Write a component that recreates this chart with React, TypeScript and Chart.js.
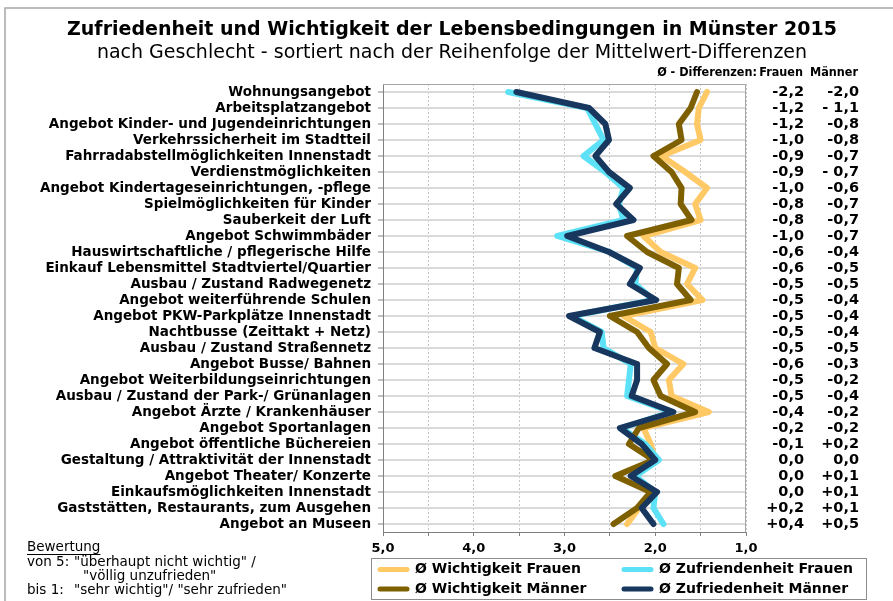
import React, { useEffect, useRef } from 'react';
import { Chart, registerables } from 'chart.js';

Chart.register(...registerables);

const categories = [
  'Wohnungsangebot',
  'Arbeitsplatzangebot',
  'Angebot Kinder- und Jugendeinrichtungen',
  'Verkehrssicherheit im Stadtteil',
  'Fahrradabstellmöglichkeiten Innenstadt',
  'Verdienstmöglichkeiten',
  'Angebot Kindertageseinrichtungen, -pflege',
  'Spielmöglichkeiten für Kinder',
  'Sauberkeit der Luft',
  'Angebot Schwimmbäder',
  'Hauswirtschaftliche / pflegerische Hilfe',
  'Einkauf Lebensmittel Stadtviertel/Quartier',
  'Ausbau / Zustand Radwegenetz',
  'Angebot weiterführende Schulen',
  'Angebot PKW-Parkplätze Innenstadt',
  'Nachtbusse (Zeittakt + Netz)',
  'Ausbau / Zustand Straßennetz',
  'Angebot Busse/ Bahnen',
  'Angebot Weiterbildungseinrichtungen',
  'Ausbau / Zustand der Park-/ Grünanlagen',
  'Angebot Ärzte / Krankenhäuser',
  'Angebot Sportanlagen',
  'Angebot öffentliche Büchereien',
  'Gestaltung / Attraktivität der Innenstadt',
  'Angebot Theater/ Konzerte',
  'Einkaufsmöglichkeiten Innenstadt',
  'Gaststätten, Restaurants, zum Ausgehen',
  'Angebot an Museen',
];

const wichtigkeitFrauen = [1.43, 1.52, 1.54, 1.5, 1.93, 1.67, 1.43, 1.56, 1.5, 2.13, 1.94, 1.56, 1.65, 1.48, 2.35, 2.05, 2.0, 1.69, 1.85, 1.82, 1.41, 2.13, 2.05, 2.0, 2.25, 2.02, 2.18, 2.31];
const zufriedenheitFrauen = [3.62, 2.75, 2.66, 2.57, 2.79, 2.55, 2.35, 2.4, 2.35, 3.08, 2.5, 2.2, 2.22, 2.02, 2.92, 2.59, 2.57, 2.27, 2.29, 2.31, 1.82, 2.37, 2.11, 1.96, 2.22, 2.0, 2.02, 1.91];
const wichtigkeitMaenner = [1.54, 1.61, 1.74, 1.71, 2.02, 1.82, 1.71, 1.72, 1.6, 2.31, 2.09, 1.74, 1.76, 1.61, 2.5, 2.2, 2.07, 1.87, 2.02, 1.94, 1.56, 2.18, 2.29, 2.02, 2.44, 2.05, 2.2, 2.46];
const zufriedenheitMaenner = [3.53, 2.73, 2.55, 2.51, 2.66, 2.51, 2.28, 2.43, 2.24, 2.97, 2.51, 2.17, 2.28, 1.99, 2.95, 2.61, 2.67, 2.2, 2.2, 2.26, 1.8, 2.39, 2.15, 2.0, 2.27, 1.98, 2.15, 2.02];

const diffFrauen = ['-2,2', '-1,2', '-1,2', '-1,0', '-0,9', '-0,9', '-1,0', '-0,8', '-0,8', '-1,0', '-0,6', '-0,6', '-0,5', '-0,5', '-0,5', '-0,5', '-0,5', '-0,6', '-0,5', '-0,5', '-0,4', '-0,2', '-0,1', '0,0', '0,0', '0,0', '+0,2', '+0,4'];
const diffMaenner = ['-2,0', '- 1,1', '-0,8', '-0,8', '-0,7', '- 0,7', '-0,6', '-0,7', '-0,7', '-0,7', '-0,4', '-0,5', '-0,5', '-0,4', '-0,4', '-0,4', '-0,5', '-0,3', '-0,2', '-0,4', '-0,2', '-0,2', '+0,2', '0,0', '+0,1', '+0,1', '+0,1', '+0,5'];

const xTickValues = [5, 4, 3, 2, 1];
const xTickLabels = ['5,0', '4,0', '3,0', '2,0', '1,0'];

const seriesLabels = ['Ø Wichtigkeit Frauen', 'Ø Zufriendenheit Frauen', 'Ø Wichtigkeit Männer', 'Ø Zufriedenheit Männer'];
const seriesColors = ['#FFC966', '#5CE1F6', '#7F6000', '#17375E'];

const titleText = 'Zufriedenheit und Wichtigkeit der Lebensbedingungen in Münster 2015';
const subtitleText = 'nach Geschlecht - sortiert nach der Reihenfolge der Mittelwert-Differenzen';
const headerTexts = ['Ø - Differenzen:', 'Frauen', 'Männer'];
const noteTitle = 'Bewertung';
const noteLines = [
  ['von 5:', '"überhaupt nicht wichtig" /'],
  ['', '"völlig unzufrieden"'],
  ['bis 1:', '"sehr wichtig"/ "sehr zufrieden"'],
];

const FONT = "'DejaVu Sans', Verdana, sans-serif";
const COND = "'DejaVu Sans Condensed', 'DejaVu Sans', sans-serif";

const extrasPlugin = {
  id: 'extras',
  beforeDraw(chart: any) {
    const ctx = chart.ctx;
    ctx.save();
    ctx.fillStyle = '#ffffff';
    ctx.fillRect(0, 0, chart.width, chart.height);
    ctx.strokeStyle = '#a6a6a6';
    ctx.lineWidth = 1.5;
    ctx.beginPath();
    ctx.moveTo(5, chart.height);
    ctx.lineTo(5, 8);
    ctx.lineTo(chart.width, 8);
    ctx.stroke();
    ctx.restore();
  },
  beforeDatasetsDraw(chart: any) {
    const { ctx, chartArea: a } = chart;
    ctx.save();
    ctx.strokeStyle = '#a6a6a6';
    ctx.lineWidth = 1;
    ctx.beginPath();
    ctx.moveTo(a.left, a.top + 0.5);
    ctx.lineTo(a.right - 0.5, a.top + 0.5);
    ctx.lineTo(a.right - 0.5, a.bottom);
    ctx.stroke();
    ctx.restore();
  },
  afterDraw(chart: any) {
    const ctx = chart.ctx;
    const yScale = chart.scales.y;
    ctx.save();
    ctx.fillStyle = '#000';
    ctx.textBaseline = 'middle';
    // header over difference columns
    ctx.font = `bold 12.5px ${COND}`;
    ctx.textAlign = 'right';
    ctx.fillText(headerTexts[0], 757, 73);
    ctx.fillText(headerTexts[1], 803, 73);
    ctx.fillText(headerTexts[2], 858, 73);

    // difference columns, positioned on the category scale
    ctx.font = `bold 14.5px ${FONT}`;
    categories.forEach((_, i) => {
      const y = yScale.getPixelForValue(i);
      ctx.fillText(diffFrauen[i], 804, y);
      ctx.fillText(diffMaenner[i], 859, y);
    });

    // note bottom-left
    ctx.textAlign = 'left';
    ctx.font = `13.5px ${FONT}`;
    ctx.fillText(noteTitle, 27, 547);
    const w = ctx.measureText(noteTitle).width;
    ctx.fillRect(27, 554, w, 1);
    const ys = [562, 576, 590];
    noteLines.forEach((ln, i) => {
      if (ln[0]) ctx.fillText(ln[0], 27, ys[i]);
      ctx.fillText(ln[1], i === 1 ? 83 : 74, ys[i]);
    });

    // legend
    ctx.strokeStyle = '#8c8c8c';
    ctx.lineWidth = 1;
    ctx.strokeRect(371.5, 558.5, 495, 41);
    const pos = [
      [378, 569.5],
      [622, 569.5],
      [378, 589],
      [622, 589],
    ];
    ctx.font = `bold 14px ${FONT}`;
    chart.data.datasets.forEach((ds: any, i: number) => {
      const [x, y] = pos[i];
      ctx.strokeStyle = ds.borderColor;
      ctx.lineWidth = 5;
      ctx.lineCap = 'round';
      ctx.beginPath();
      ctx.moveTo(x + 2, y);
      ctx.lineTo(x + 29, y);
      ctx.stroke();
      ctx.fillStyle = '#000';
      ctx.fillText(ds.label, x + 37, y);
    });
    ctx.restore();
  },
};

export default function App() {
  const ref = useRef<HTMLCanvasElement | null>(null);

  useEffect(() => {
    if (!ref.current) return;
    Chart.defaults.font.family = FONT;
    const series = [wichtigkeitFrauen, zufriedenheitFrauen, wichtigkeitMaenner, zufriedenheitMaenner];
    const orders = [3, 2, 1, 0];
    const chart = new Chart(ref.current, {
      type: 'line',
      data: {
        labels: categories,
        datasets: series.map((d, i) => ({
          label: seriesLabels[i],
          data: d,
          borderColor: seriesColors[i],
          backgroundColor: seriesColors[i],
          borderWidth: 6,
          pointRadius: 0,
          pointHoverRadius: 0,
          tension: 0,
          fill: false,
          borderJoinStyle: 'round',
          borderCapStyle: 'round',
          order: orders[i],
        })),
      },
      options: {
        indexAxis: 'y',
        animation: false,
        responsive: false,
        maintainAspectRatio: false,
        events: [],
        layout: { padding: { left: 11, right: 0, top: 0, bottom: 44 } },
        plugins: {
          legend: { display: false },
          tooltip: { enabled: false },
          title: {
            display: true,
            text: titleText,
            color: '#000',
            font: { family: FONT, size: 19, weight: 'bold' },
            padding: { top: 19, bottom: 0 },
          },
          subtitle: {
            display: true,
            text: subtitleText,
            color: '#000',
            font: { family: FONT, size: 19, weight: 'normal' },
            padding: { top: 0, bottom: 19.4 },
          },
        },
        scales: {
          x: {
            type: 'linear',
            position: 'bottom',
            min: 1,
            max: 5,
            reverse: true,
            afterFit: (s: any) => {
              s.height = 25;
            },
            ticks: {
              stepSize: 0.5,
              autoSkip: false,
              maxRotation: 0,
              padding: 5,
              color: '#000',
              font: { family: FONT, size: 13, weight: 'bold' },
              callback: (v: any) => {
                const idx = xTickValues.indexOf(Number(v));
                return idx >= 0 ? xTickLabels[idx] : '';
              },
            },
            grid: {
              color: '#c4c4c4',
              lineWidth: 1,
              tickLength: 4,
              tickColor: '#808080',
              tickWidth: 1,
            },
            border: { display: true, color: '#808080', width: 1, dash: [2, 2] },
          },
          y: {
            type: 'category',
            position: 'left',
            offset: true,
            afterFit: (s: any) => {
              s.width = 372;
            },
            ticks: {
              autoSkip: false,
              padding: 7,
              color: '#000',
              font: { family: FONT, size: 13.5, weight: 'bold' },
            },
            grid: {
              offset: false,
              color: '#dadada',
              lineWidth: 2,
              tickLength: 5,
              tickColor: '#808080',
              tickWidth: 1,
            },
            border: { display: true, color: '#808080', width: 1 },
          },
          yR: {
            type: 'category',
            position: 'right',
            labels: diffFrauen,
            offset: true,
            afterFit: (s: any) => {
              s.width = 147;
            },
            ticks: { display: false },
            grid: { display: false, drawTicks: false },
            border: { display: false },
          },
        },
      } as any,
      plugins: [extrasPlugin],
    });
    return () => chart.destroy();
  }, []);

  return (
    <div style={{ position: 'absolute', left: 0, top: 0, width: 893, height: 601, background: '#fff' }}>
      <canvas ref={ref} width={893} height={601} style={{ display: 'block', width: 893, height: 601 }} />
    </div>
  );
}
